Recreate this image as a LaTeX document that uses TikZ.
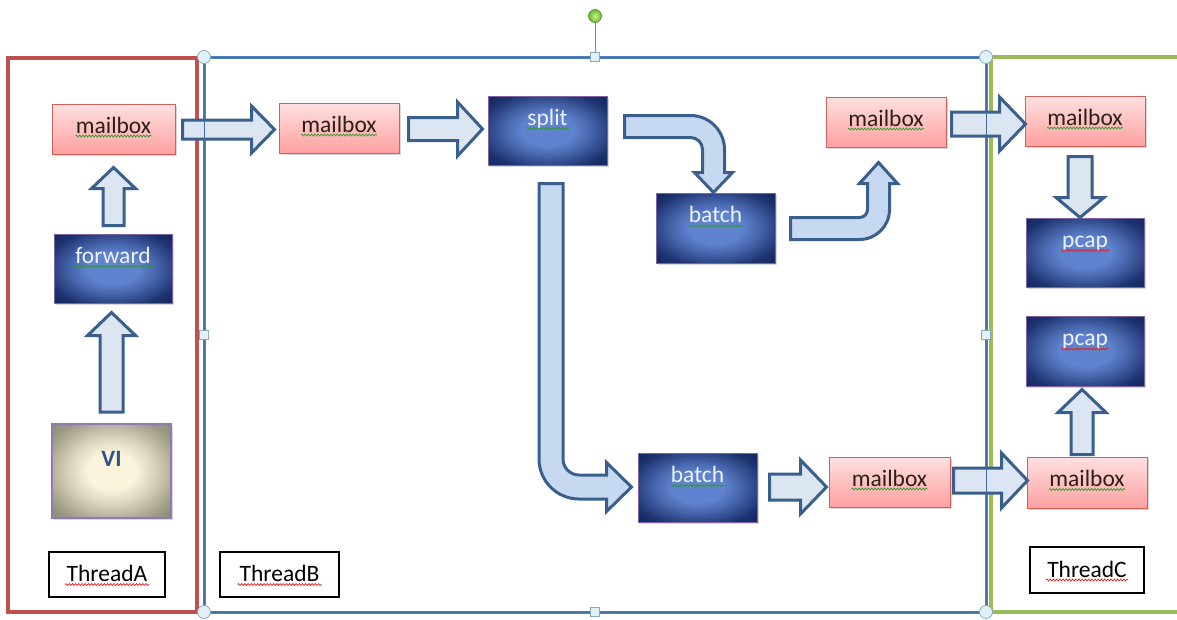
\documentclass[tikz,border=0pt]{standalone}
\usepackage{fontspec}
\setmainfont{Carlito}
\usetikzlibrary{calc,shadows,decorations.pathmorphing}
\definecolor{arrBd}{HTML}{3B5F8C}
\definecolor{arrFl}{HTML}{DCE6F2}
\definecolor{arrFlB}{HTML}{C6D9F0}
\definecolor{pinkTop}{HTML}{FFE0E0}
\definecolor{pinkBot}{HTML}{FFA0A0}
\definecolor{pinkBd}{HTML}{D5605B}
\definecolor{navyIn}{HTML}{5F83CF}
\definecolor{navyOut}{HTML}{11245E}
\definecolor{boxBd}{HTML}{8064A2}
\definecolor{viIn}{HTML}{FAF4DC}
\definecolor{viOut}{HTML}{8A8774}
\definecolor{viText}{HTML}{2E5585}
\definecolor{mbText}{HTML}{2A2018}
\definecolor{lightText}{HTML}{EEF2FA}
\definecolor{frRed}{HTML}{C0504D}
\definecolor{frBlue}{HTML}{4F81BD}
\definecolor{frGreen}{HTML}{9BBB59}
\definecolor{sqGreen}{HTML}{2E9A2E}
\definecolor{sqRed}{HTML}{E02020}
\definecolor{hdlFill}{HTML}{DFF2F7}
\definecolor{hdlBd}{HTML}{8AAABB}
\definecolor{rotIn}{HTML}{C9F28C}
\definecolor{rotOut}{HTML}{6DBA2A}
\definecolor{rotBd}{HTML}{5E9A3A}
\definecolor{rotLine}{HTML}{6A88A8}

\pgfdeclareradialshading{navyrad}{\pgfpoint{0bp}{0bp}}{color(0bp)=(navyIn); color(11bp)=(navyIn); color(18bp)=(navyOut!30!navyIn); color(24bp)=(navyOut!60!navyIn); color(29bp)=(navyOut!85!navyIn); color(36bp)=(navyOut); color(50bp)=(navyOut)}
\pgfdeclareradialshading{virad}{\pgfpoint{0bp}{0bp}}{color(0bp)=(viIn); color(10bp)=(viIn); color(18bp)=(viOut!30!viIn); color(24bp)=(viOut!58!viIn); color(30bp)=(viOut!85!viIn); color(36bp)=(viOut); color(50bp)=(viOut)}

\tikzset{
  basebox/.style={rectangle, inner sep=0pt, font=\fontsize{23.5}{28}\selectfont,
    drop shadow={shadow xshift=1.5pt, shadow yshift=-2pt, opacity=0.3}},
  mbox/.style={basebox, minimum width=120pt, minimum height=50pt,
    top color=pinkTop, bottom color=pinkBot, draw=pinkBd, line width=1pt,
    text=mbText, text height=17pt, text depth=8.4pt},
  dbox/.style={basebox, minimum width=119pt, minimum height=69pt,
    shading=navyrad, draw=boxBd, line width=1pt,
    text=lightText, text height=10pt, text depth=20.6pt},
  vbox/.style={basebox, minimum width=119pt, minimum height=94pt,
    shading=virad, draw=boxBd!85, line width=1.6pt,
    text=viText, text height=10pt, text depth=18.6pt},
  tlab/.style={rectangle, inner sep=0pt, draw=black, line width=1.3pt, fill=white,
    minimum width=116pt, minimum height=45pt, font=\fontsize{23.5}{28}\selectfont,
    text=black, text height=17pt, text depth=2.6pt},
  blk/.style={draw=arrBd, fill=arrFl, line width=3pt, line join=miter},
  blkbent/.style={blk, fill=arrFlB},
  sqg/.style={decorate, decoration={snake, amplitude=1pt, segment length=3.2pt}, line width=0.7pt},
  hdlc/.style={circle, draw=hdlBd, fill=hdlFill, line width=0.8pt, minimum size=13pt, inner sep=0pt},
  hdls/.style={rectangle, draw=hdlBd, fill=hdlFill, line width=0.8pt, minimum size=9.5pt, inner sep=0pt}
}

% straight block arrows: #2 start, #3 tip, #4 half shaft, #5 head length, #6 half head
\newcommand\blkR[6][]{\draw[blk,#1] ($(#2)+(0,-#4)$) -- ($(#3)+(-#5,-#4)$) -- ($(#3)+(-#5,-#6)$) -- (#3) -- ($(#3)+(-#5,#6)$) -- ($(#3)+(-#5,#4)$) -- ($(#2)+(0,#4)$) -- cycle;}
\newcommand\blkU[6][]{\draw[blk,#1] ($(#2)+(-#4,0)$) -- ($(#3)+(-#4,#5)$) -- ($(#3)+(-#6,#5)$) -- (#3) -- ($(#3)+(#6,#5)$) -- ($(#3)+(#4,#5)$) -- ($(#2)+(#4,0)$) -- cycle;}
\newcommand\blkD[6][]{\draw[blk,#1] ($(#2)+(-#4,0)$) -- ($(#3)+(-#4,-#5)$) -- ($(#3)+(-#6,-#5)$) -- (#3) -- ($(#3)+(#6,-#5)$) -- ($(#3)+(#4,-#5)$) -- ($(#2)+(#4,0)$) -- cycle;}
\newcommand\squig[4]{\draw[sqg,#4] ($(#1.center)+(-#3,#2)$) -- ($(#1.center)+(#3,#2)$);}

\begin{document}
\begin{tikzpicture}[x=1pt,y=-1pt]
\useasboundingbox (0,0) rectangle (1177,619);
\fill[white] (0,0) rectangle (1177,619);

% thread frames
\draw[frRed, line width=4pt] (8,58) rectangle (197,612);
\draw[frGreen, line width=3.5pt] (991,57) rectangle (1185,612);
\draw[frBlue, line width=3pt] (204,57) rectangle (986,612);

% nodes
\node[mbox, minimum width=123pt] (mbA) at (113.5,129) {mailbox};
\node[dbox, minimum width=118pt] (fwd) at (113,268.5) {forward};
\node[vbox] (vi) at (111.5,471) {\bfseries VI};
\node[mbox] (mbB1) at (339,128) {mailbox};
\node[dbox] (split) at (547.5,130.5) {split};
\node[dbox, minimum height=70pt] (bat1) at (715.5,228) {batch};
\node[mbox] (mb2) at (886,122) {mailbox};
\node[mbox] (mbC1) at (1085,121) {mailbox};
\node[dbox, minimum width=118pt] (pc1) at (1085,252.5) {pcap};
\node[dbox, minimum width=118pt, minimum height=70pt] (pc2) at (1085,351) {pcap};
\node[mbox, minimum height=51pt] (mbC2) at (1087,482.5) {mailbox};
\node[dbox] (bat2) at (697.5,487.5) {batch};
\node[mbox, minimum width=121pt] (mb3) at (889.5,482) {mailbox};
\node[tlab] (thA) at (107,574.5) {ThreadA};
\node[tlab, minimum width=119pt] (thB) at (279.5,574.5) {ThreadB};
\node[tlab, minimum width=114pt, minimum height=46pt] (thC) at (1087,570) {ThreadC};

% spell-check squiggles
\squig{mbA}{7}{38}{sqGreen}
\squig{mbB1}{7}{38}{sqGreen}
\squig{mb2}{7}{38}{sqGreen}
\squig{mbC1}{7}{38}{sqGreen}
\squig{mbC2}{7}{38}{sqGreen}
\squig{mb3}{7}{38}{sqGreen}
\squig{fwd}{-2}{40}{sqGreen}
\squig{split}{-2}{21}{sqGreen}
\squig{bat1}{-2}{27}{sqGreen}
\squig{bat2}{-2}{27}{sqGreen}
\squig{pc1}{-2}{24}{sqRed}
\squig{pc2}{-2}{24}{sqRed}
\squig{thA}{10}{42}{sqRed}
\squig{thB}{10}{42}{sqRed}
\squig{thC}{10}{41}{sqRed}

% straight arrows
\coordinate (a1t) at ($(mbB1.west)+(-4,1.5)$);
\coordinate (a1s0) at ($(mbA.east)+(7,0)$);
\coordinate (a1s) at (a1s0 |- a1t);
\blkR{a1s}{a1t}{9.5}{23}{23.5}

\coordinate (a4t) at ($(split.west)+(-5,-1.5)$);
\coordinate (a4s0) at ($(mbB1.east)+(9,0)$);
\coordinate (a4s) at (a4s0 |- a4t);
\blkR{a4s}{a4t}{11.5}{25}{27}

\coordinate (a7t) at ($(mbC1.west)+(1,3)$);
\coordinate (a7s0) at ($(mb2.east)+(5,0)$);
\coordinate (a7s) at (a7s0 |- a7t);
\blkR{a7s}{a7t}{12}{26}{27}

\coordinate (a10t) at ($(mb3.west)+(-2,5)$);
\coordinate (a10s0) at ($(bat2.east)+(12,0)$);
\coordinate (a10s) at (a10s0 |- a10t);
\blkR{a10s}{a10t}{13}{26}{27}

\coordinate (a11t) at ($(mbC2.west)+(1,-2)$);
\coordinate (a11s0) at ($(mb3.east)+(3,0)$);
\coordinate (a11s) at (a11s0 |- a11t);
\blkR{a11s}{a11t}{12.5}{26}{27.5}

\coordinate (a2t) at ($(mbA.south)+(0,13)$);
\coordinate (a2s0) at ($(fwd.north)+(0,-8)$);
\coordinate (a2s) at (a2t |- a2s0);
\blkU{a2s}{a2t}{10.5}{21}{22}

\coordinate (a3t) at ($(fwd.south)+(-1.5,9)$);
\coordinate (a3s0) at ($(vi.north)+(0,-11)$);
\coordinate (a3s) at (a3t |- a3s0);
\blkU{a3s}{a3t}{11.5}{23}{24}

\coordinate (a12t) at ($(pc2.south)+(-3,3)$);
\coordinate (a12s0) at ($(mbC2.north)+(0,-2)$);
\coordinate (a12s) at (a12t |- a12s0);
\blkU{a12s}{a12t}{11}{23}{24}

\coordinate (a8t) at ($(pc1.north)+(-5,0)$);
\coordinate (a8s0) at ($(mbC1.south)+(0,10)$);
\coordinate (a8s) at (a8t |- a8s0);
\blkD{a8s}{a8t}{12}{20}{24}

% bent arrow: split -> upper batch (right, then down)
\coordinate (a5s) at ($(split.east)+(17,-4)$);
\coordinate (a5t) at ($(bat1.north)+(-2,0)$);
\coordinate (a5c) at (a5s -| a5t);
\draw[blkbent] ($(a5s)+(0,-11)$) -- ($(a5c)+(-23,-11)$)
  arc[start angle=270, end angle=360, radius=34]
  -- ($(a5t)+(11,-20)$) -- ($(a5t)+(19,-20)$) -- (a5t) -- ($(a5t)+(-19,-20)$) -- ($(a5t)+(-11,-20)$)
  -- ($(a5c)+(-11,23)$)
  arc[start angle=0, end angle=-90, radius=12]
  -- ($(a5s)+(0,11)$) -- cycle;

% bent arrow: upper batch -> mailbox (right, then up)
\coordinate (a6s) at ($(bat1.east)+(15,0.5)$);
\coordinate (a6t) at ($(mb2.south)+(-7.5,15)$);
\coordinate (a6c) at (a6s -| a6t);
\draw[blkbent] ($(a6s)+(0,-11)$) -- ($(a6c)+(-19,-11)$)
  arc[start angle=90, end angle=0, radius=8]
  -- ($(a6t)+(-11,21)$) -- ($(a6t)+(-19,21)$) -- (a6t) -- ($(a6t)+(19,21)$) -- ($(a6t)+(11,21)$)
  -- ($(a6c)+(11,-19)$)
  arc[start angle=0, end angle=90, radius=30]
  -- ($(a6s)+(0,11)$) -- cycle;

% bent arrow: split -> lower batch (down, then right)
\coordinate (a9s) at ($(split.south)+(3.5,18)$);
\coordinate (a9t) at ($(bat2.west)+(-6,-0.5)$);
\coordinate (a9c) at (a9t -| a9s);
\draw[blkbent] ($(a9s)+(-12,0)$) -- ($(a9c)+(-12,-28)$)
  arc[start angle=180, end angle=90, radius=40]
  -- ($(a9t)+(-25,12)$) -- ($(a9t)+(-25,24.5)$) -- (a9t) -- ($(a9t)+(-25,-24.5)$) -- ($(a9t)+(-25,-12)$)
  -- ($(a9c)+(28,-12)$)
  arc[start angle=90, end angle=180, radius=16]
  -- ($(a9s)+(12,0)$) -- cycle;

% selected frame outline seen through arrows
\draw[frBlue!85!black, line width=0.8pt] (204,57) rectangle (986,612);

% selection handles
\draw[rotLine, line width=1pt] (595,22) -- (595,53);
\node[circle, draw=rotBd, line width=0.8pt, inner color=rotIn, outer color=rotOut, minimum size=13pt, inner sep=0pt] (rot) at (595,16) {};
\node[hdlc] (hc1) at (204,57) {};
\node[hdlc] (hc2) at (986,57) {};
\node[hdlc] (hc3) at (204,612) {};
\node[hdlc] (hc4) at (986,612) {};
\node[hdls] (hs1) at (595,57) {};
\node[hdls] (hs2) at (595,612) {};
\node[hdls] (hs3) at (204,335) {};
\node[hdls] (hs4) at (986,335) {};
\end{tikzpicture}
\end{document}
